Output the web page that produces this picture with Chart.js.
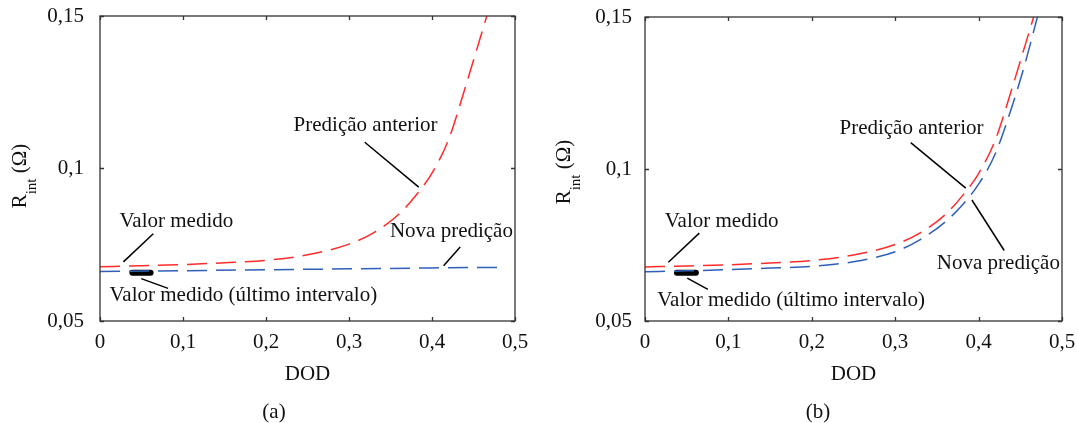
<!DOCTYPE html>
<html>
<head>
<meta charset="utf-8">
<script src="https://cdn.jsdelivr.net/npm/chart.js@4.4.1/dist/chart.umd.min.js"></script>
<style>
  body { margin: 0; background: #fff; }
  #wrap { position: relative; width: 1078px; height: 423px; overflow: hidden; }
  .pane { position: absolute; top: 0; height: 423px; }
  .cap { position: absolute; top: 411px; transform: translate(-50%, -50%);
         font: 21px 'Liberation Serif', serif; color: #111; white-space: nowrap; }
</style>
</head>
<body>
<div id="wrap">
  <div class="pane" style="left:0;width:540px"><canvas id="chartA" width="540" height="423"></canvas></div>
  <div class="pane" style="left:540px;width:538px"><canvas id="chartB" width="538" height="423"></canvas></div>
  <div class="cap" style="left:274px">(a)</div>
  <div class="cap" style="left:818px">(b)</div>
</div>
<script>
// Predição anterior (same curve in both panels)
const dodPrev = [0, 0.05, 0.1, 0.15, 0.2, 0.25, 0.3, 0.33, 0.36, 0.38, 0.4, 0.42, 0.44, 0.455, 0.466];
const rPrev = [0.0678, 0.0681, 0.0685, 0.0691, 0.0699, 0.0717, 0.0752, 0.0790, 0.0850, 0.0910, 0.0985, 0.1095, 0.1265, 0.1400, 0.1500];

// Nova predição, panel (a)
const dodNewA = [0, 0.1, 0.2, 0.3, 0.4, 0.487];
const rNewA = [0.0662, 0.0665, 0.0668, 0.0671, 0.0674, 0.0676];

// Nova predição, panel (b)
const dodNewB = [0, 0.05, 0.1, 0.15, 0.2, 0.25, 0.3, 0.33, 0.36, 0.38, 0.4, 0.42, 0.44, 0.455, 0.4705];
const rNewB = [0.0662, 0.0665, 0.0669, 0.0674, 0.0680, 0.0695, 0.0728, 0.0768, 0.0826, 0.0880, 0.0950, 0.1050, 0.1205, 0.1340, 0.1500];

// Valor medido (último intervalo)
const dodLastA = [0.039, 0.061];
const rLastA = [0.0658, 0.0658];
const dodLastB = [0.0383, 0.061];
const rLastB = [0.0659, 0.0659];

const xTicks = [0, 0.1, 0.2, 0.3, 0.4, 0.5];
const yTicks = [0.05, 0.1, 0.15];

// annotation texts and leader lines, in data units
const notesA = [
    { text: 'Predição anterior', x: 0.320, y: 0.1141 },
    { text: 'Valor medido', x: 0.092, y: 0.0825 },
    { text: 'Nova predição', x: 0.4234, y: 0.0794 },
    { text: 'Valor medido (último intervalo)', x: 0.1727, y: 0.0585 }
];
const leadersA = [
    [0.319, 0.1086, 0.384, 0.0939],
    [0.0642, 0.0786, 0.0282, 0.0694],
    [0.434, 0.0743, 0.414, 0.0681],
    [0.0497, 0.0639, 0.082, 0.0607]
];
const notesB = [
    { text: 'Predição anterior', x: 0.3195, y: 0.1134 },
    { text: 'Valor medido', x: 0.0919, y: 0.0827 },
    { text: 'Nova predição', x: 0.4237, y: 0.0690 },
    { text: 'Valor medido (último intervalo)', x: 0.1752, y: 0.0569 }
];
const leadersB = [
    [0.3186, 0.1087, 0.3846, 0.0937],
    [0.0651, 0.0789, 0.028, 0.0693],
    [0.392, 0.0898, 0.4307, 0.0732],
    [0.0507, 0.0641, 0.0754, 0.0604]
];

const FONT = "'Liberation Serif', 'Times New Roman', serif";
const RED = '#ff2b2b';
const BLUE = '#2f5fb8';

function toPoints(xs, ys) {
    return xs.map((x, i) => ({ x: x, y: ys[i] }));
}

function fmt(v) {
    return String(Math.round(v * 100) / 100).replace('.', ',');
}

// no extra room for tick labels: the plot box is fixed
function noPad(s) {
    s.paddingTop = 0;
    s.paddingBottom = 0;
    s.paddingLeft = 0;
    s.paddingRight = 0;
}

const framePlugin = {
    id: 'frame',
    afterDatasetsDraw(chart) {
        const ctx = chart.ctx;
        const a = chart.chartArea;
        const xs = chart.scales.x, ys = chart.scales.y;
        ctx.save();
        ctx.strokeStyle = '#333';
        ctx.lineWidth = 1.3;
        ctx.strokeRect(a.left, a.top, a.right - a.left, a.bottom - a.top);
        ctx.beginPath();
        xTicks.forEach(v => {
            const p = Math.round(xs.getPixelForValue(v)) + 0.5;
            ctx.moveTo(p, a.bottom); ctx.lineTo(p, a.bottom - 4);
            ctx.moveTo(p, a.top); ctx.lineTo(p, a.top + 4);
        });
        yTicks.forEach(v => {
            const p = Math.round(ys.getPixelForValue(v)) + 0.5;
            ctx.moveTo(a.left, p); ctx.lineTo(a.left + 4, p);
            ctx.moveTo(a.right, p); ctx.lineTo(a.right - 4, p);
        });
        ctx.stroke();
        ctx.restore();
    },
    afterDraw(chart, args, opts) {
        const ctx = chart.ctx;
        const xs = chart.scales.x, ys = chart.scales.y;
        ctx.save();
        // leader lines
        ctx.strokeStyle = '#000';
        ctx.lineWidth = 1.5;
        opts.leaders.forEach(l => {
            ctx.beginPath();
            ctx.moveTo(xs.getPixelForValue(l[0]), ys.getPixelForValue(l[1]));
            ctx.lineTo(xs.getPixelForValue(l[2]), ys.getPixelForValue(l[3]));
            ctx.stroke();
        });
        // labels
        ctx.fillStyle = '#111';
        ctx.font = '21px ' + FONT;
        ctx.textAlign = 'center';
        ctx.textBaseline = 'middle';
        opts.notes.forEach(n => {
            ctx.fillText(n.text, xs.getPixelForValue(n.x), ys.getPixelForValue(n.y));
        });
        // y-axis title R_int (Ω)
        const big = '21px ' + FONT, small = '15px ' + FONT;
        ctx.font = big; const wR = ctx.measureText('R').width;
        const wTail = ctx.measureText(' (Ω)').width;
        ctx.font = small; const wSub = ctx.measureText('int').width;
        const total = wR + wSub + wTail;
        ctx.translate(opts.titleX, opts.titleY);
        ctx.rotate(-Math.PI / 2);
        ctx.textAlign = 'left';
        ctx.textBaseline = 'alphabetic';
        let pos = -total / 2;
        ctx.font = big; ctx.fillText('R', pos, 0); pos += wR;
        ctx.font = small; ctx.fillText('int', pos, 10); pos += wSub;
        ctx.font = big; ctx.fillText(' (Ω)', pos, 0);
        ctx.restore();
    }
};

function makeChart(id, newX, newY, lastX, lastY, box, notes, leaders) {
    return new Chart(document.getElementById(id), {
        type: 'line',
        data: {
            datasets: [{
                label: 'Predição anterior',
                data: toPoints(dodPrev, rPrev),
                borderColor: RED,
                borderWidth: 1.5,
                borderDash: [20, 9],
                pointRadius: 0,
                cubicInterpolationMode: 'monotone'
            }, {
                label: 'Nova predição',
                data: toPoints(newX, newY),
                borderColor: BLUE,
                borderWidth: 1.5,
                borderDash: [20, 9],
                pointRadius: 0,
                cubicInterpolationMode: 'monotone'
            }, {
                label: 'Valor medido (último intervalo)',
                data: toPoints(lastX, lastY),
                borderColor: '#000',
                borderWidth: 6,
                borderCapStyle: 'round',
                pointRadius: 0
            }]
        },
        options: {
            responsive: false,
            animation: false,
            layout: {
                padding: { left: 0, top: box.top, right: box.right, bottom: 36 }
            },
            plugins: {
                legend: { display: false },
                tooltip: { enabled: false },
                frame: { notes: notes, leaders: leaders, titleX: box.titleX, titleY: box.titleY }
            },
            scales: {
                x: {
                    type: 'linear',
                    min: 0,
                    max: 0.5,
                    afterBuildTicks: s => { s.ticks = xTicks.map(v => ({ value: v })); },
                    afterFit: s => { s.height = 66; noPad(s); },
                    grid: { display: false, drawTicks: false },
                    border: { display: false },
                    ticks: {
                        padding: 9,
                        color: '#111',
                        font: { family: FONT, size: 21 },
                        maxRotation: 0,
                        callback: v => fmt(v)
                    },
                    title: {
                        display: true,
                        text: 'DOD',
                        color: '#111',
                        font: { family: FONT, size: 21 },
                        padding: { top: 0, bottom: 0 }
                    }
                },
                y: {
                    type: 'linear',
                    min: 0.05,
                    max: 0.15,
                    afterBuildTicks: s => { s.ticks = yTicks.map(v => ({ value: v })); },
                    afterFit: s => { s.width = box.left; noPad(s); },
                    grid: { display: false, drawTicks: false },
                    border: { display: false },
                    ticks: {
                        padding: box.tickPad,
                        color: '#111',
                        font: { family: FONT, size: 21 },
                        callback: v => fmt(v)
                    }
                }
            }
        },
        plugins: [framePlugin]
    });
}

makeChart('chartA', dodNewA, rNewA, dodLastA, rLastA,
    { left: 100, top: 16, right: 25, tickPad: 16, titleX: 26, titleY: 176 }, notesA, leadersA);
makeChart('chartB', dodNewB, rNewB, dodLastB, rLastB,
    { left: 105, top: 17, right: 16, tickPad: 13, titleX: 30, titleY: 172 }, notesB, leadersB);
</script>
</body>
</html>
